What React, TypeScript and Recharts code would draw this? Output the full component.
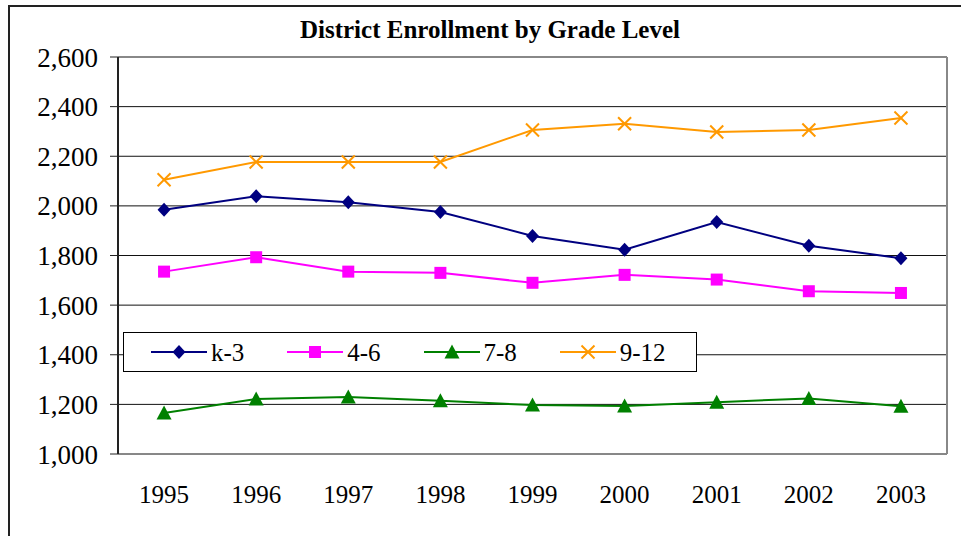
import React from "react"
import {
  LineChart,
  Line,
  XAxis,
  YAxis,
  CartesianGrid,
  Legend,
} from "recharts"

const categories = ["1995", "1996", "1997", "1998", "1999", "2000", "2001", "2002", "2003"]
const k3 = [1984, 2039, 2015, 1975, 1879, 1823, 1935, 1839, 1789]
const g46 = [1735, 1793, 1735, 1730, 1690, 1722, 1703, 1656, 1649]
const g78 = [1165, 1222, 1230, 1215, 1197, 1193, 1209, 1224, 1192]
const g912 = [2105, 2177, 2177, 2177, 2306, 2331, 2298, 2306, 2354]
const yTicks = [1000, 1200, 1400, 1600, 1800, 2000, 2200, 2400, 2600]

const FONT = "Liberation Serif, serif"

const series = [
  { key: "k3", name: "k-3", color: "#000080", shape: "diamond" },
  { key: "g46", name: "4-6", color: "#FF00FF", shape: "square" },
  { key: "g78", name: "7-8", color: "#008000", shape: "triangle" },
  { key: "g912", name: "9-12", color: "#FF9900", shape: "cross" },
]

const data = categories.map((year, i) => ({
  year,
  k3: k3[i],
  g46: g46[i],
  g78: g78[i],
  g912: g912[i],
}))

// boundaries between categories, for the Excel-style tick marks
const edgeTicks = categories.map((_, i) => i).concat(categories.length)

function Marker({ shape, cx, cy, color }: { shape: string; cx: number; cy: number; color: string }) {
  if (cx == null || cy == null) return null
  switch (shape) {
    case "diamond":
      return (
        <polygon
          points={`${cx},${cy - 7} ${cx + 6.5},${cy} ${cx},${cy + 7} ${cx - 6.5},${cy}`}
          fill={color}
        />
      )
    case "square":
      return <rect x={cx - 6} y={cy - 6} width={12} height={12} fill={color} />
    case "triangle":
      return (
        <polygon
          points={`${cx},${cy - 7.5} ${cx + 7.5},${cy + 6.5} ${cx - 7.5},${cy + 6.5}`}
          fill={color}
        />
      )
    default:
      return (
        <g stroke={color} strokeWidth={2}>
          <line x1={cx - 6.5} y1={cy - 6.5} x2={cx + 6.5} y2={cy + 6.5} />
          <line x1={cx - 6.5} y1={cy + 6.5} x2={cx + 6.5} y2={cy - 6.5} />
        </g>
      )
  }
}

const renderLegend = () => (
  <div
    style={{
      display: "flex",
      alignItems: "center",
      boxSizing: "border-box",
      width: 574,
      height: 40,
      border: "1px solid #000",
      background: "#fff",
      paddingLeft: 27,
      fontFamily: FONT,
    }}
  >
    {series.map((s) => (
      <div key={s.key} style={{ width: 142, display: "flex", alignItems: "center" }}>
        <svg width={56} height={20} style={{ display: "block" }}>
          <line x1={0} y1={10} x2={56} y2={10} stroke={s.color} strokeWidth={2} />
          <Marker shape={s.shape} cx={28} cy={10} color={s.color} />
        </svg>
        <span style={{ marginLeft: 4, fontSize: 25, color: "#000", lineHeight: "25px" }}>
          {s.name}
        </span>
      </div>
    ))}
  </div>
)

export default function App() {
  return (
    <div
      style={{
        position: "absolute",
        left: 0,
        top: 0,
        width: 961,
        height: 536,
        overflow: "hidden",
        background: "#fff",
        fontFamily: FONT,
      }}
    >
      <style>{`.recharts-wrapper text { font-family: 'Liberation Serif', serif; }`}</style>
      <div
        style={{
          position: "absolute",
          left: 8,
          top: 5,
          width: 1200,
          height: 800,
          border: "2px solid #222",
        }}
      />
      <div
        style={{
          position: "absolute",
          left: 0,
          width: 980,
          top: 15,
          textAlign: "center",
          fontWeight: "bold",
          fontSize: 25,
          lineHeight: "30px",
          color: "#000",
        }}
      >
        District Enrollment by Grade Level
      </div>
      <LineChart
        width={961}
        height={536}
        data={data}
        margin={{ top: 57, right: 14, bottom: 52, left: 8 }}
      >
        <CartesianGrid vertical={false} stroke="#111" strokeWidth={1} />
        <CartesianGrid
          stroke="#888"
          strokeWidth={2}
          horizontalCoordinatesGenerator={({ offset }: any) => [offset.top]}
          verticalCoordinatesGenerator={({ offset }: any) => [offset.left + offset.width]}
        />
        <XAxis
          xAxisId="edges"
          type="number"
          domain={[0, categories.length]}
          ticks={edgeTicks}
          height={0}
          tickSize={6}
          tickFormatter={() => ""}
          stroke="#222"
          axisLine={{ stroke: "#222", strokeWidth: 2 }}
          tickLine={{ stroke: "#222" }}
        />
        <XAxis
          dataKey="year"
          scale="band"
          height={30}
          axisLine={false}
          tickLine={false}
          tickSize={6}
          tickMargin={25}
          interval={0}
          tick={{ fontSize: 25, fill: "#000" }}
        />
        <YAxis
          domain={[1000, 2600]}
          ticks={yTicks}
          width={110}
          tickSize={8}
          tickMargin={12}
          axisLine={{ stroke: "#222", strokeWidth: 2 }}
          tickLine={{ stroke: "#222" }}
          tickFormatter={(v: number) => v.toLocaleString("en-US")}
          tick={{ fontSize: 27, fill: "#000" }}
        />
        <Legend
          layout="horizontal"
          verticalAlign="middle"
          width={574}
          height={40}
          wrapperStyle={{ left: 123, top: 332, width: 574, height: 40 }}
          content={renderLegend}
        />
        {series.map((s) => (
          <Line
            key={s.key}
            dataKey={s.key}
            name={s.name}
            stroke={s.color}
            strokeWidth={2}
            isAnimationActive={false}
            dot={(p: any) => (
              <Marker key={`${s.key}-${p.index}`} shape={s.shape} cx={p.cx} cy={p.cy} color={s.color} />
            )}
            activeDot={false}
          />
        ))}
      </LineChart>
    </div>
  )
}
